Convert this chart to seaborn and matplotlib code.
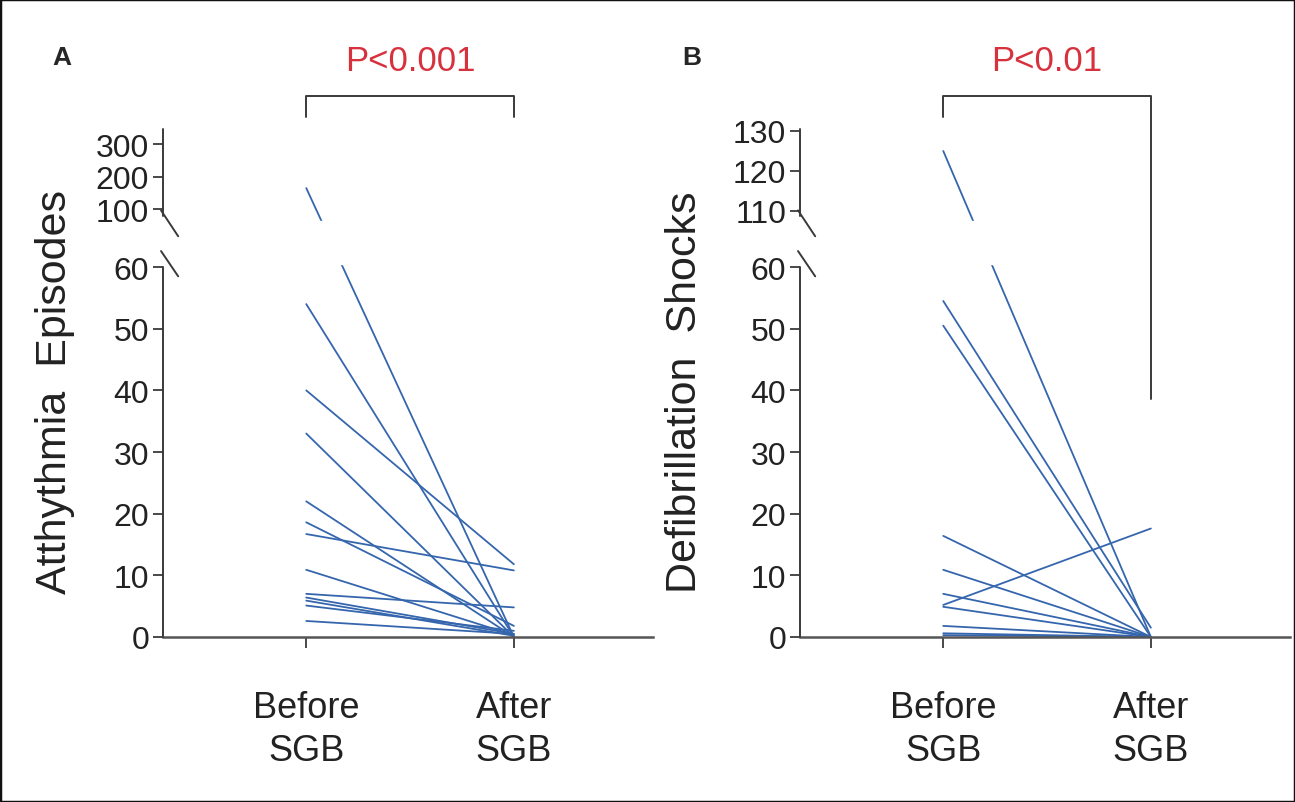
"""
sgb_plot.py - paired before/after SGB lines with broken y axis
"""
import numpy as np
import pandas as pd
import matplotlib
matplotlib.use("Agg")
import matplotlib.pyplot as plt
import seaborn as sns
from matplotlib.patches import Rectangle
from matplotlib.transforms import blended_transform_factory

sns.set_theme(style="white")
plt.rcParams['font.family'] = ['Liberation Sans', 'DejaVu Sans']

CONDITIONS = ["Before\nSGB", "After\nSGB"]

# panel A - arrhythmia episodes per patient
EPISODES_BEFORE = [165, 54, 40, 33, 22, 18.6, 16.7, 10.9, 7.0, 6.4, 5.9, 5.1, 2.6]
EPISODES_AFTER = [0, 0, 11.8, 0, 0, 1.8, 10.8, 0.3, 4.8, 0.5, 0.2, 1.0, 0.5]
EPISODES_TICKS = [0, 10, 20, 30, 40, 50, 60, 100, 200, 300]

# panel B - defibrillation shocks per patient
SHOCKS_BEFORE = [125, 54.5, 50.5, 16.4, 10.9, 7.0, 5.2, 4.9, 1.8, 0.6, 0.3]
SHOCKS_AFTER = [0, 1.5, 0, 0, 0, 0, 17.6, 0, 0, 0, 0]
SHOCKS_TICKS = [0, 10, 20, 30, 40, 50, 60, 110, 120, 130]

LINE_COLOR = "#3566ad"
AXIS_COLOR = "#3a3a3a"
P_COLOR = "#d8313e"


def broken_scale(low_top, high_bottom, gap, k):
    """values <= low_top stay linear, values >= high_bottom get squeezed by k"""
    def fwd(v):
        v = np.asarray(v, dtype=float)
        mid = low_top + (v - low_top) * gap / (high_bottom - low_top)
        high = low_top + gap + (v - high_bottom) * k
        return np.where(v <= low_top, v, np.where(v <= high_bottom, mid, high))

    def inv(t):
        t = np.asarray(t, dtype=float)
        mid = low_top + (t - low_top) * (high_bottom - low_top) / gap
        high = high_bottom + (t - low_top - gap) / k
        return np.where(t <= low_top, t, np.where(t <= low_top + gap, mid, high))
    return fwd, inv


def to_long(before, after):
    n = len(before)
    return pd.DataFrame({
        "patient": list(range(n)) * 2,
        "x": [0] * n + [1] * n,
        "value": list(before) + list(after),
    })


def draw_panel(ax, before, after, ticks, scale, label, ptext, right_drop, label_x):
    fwd, inv = scale
    df = to_long(before, after)
    sns.lineplot(data=df, x="x", y="value", units="patient", estimator=None,
                 color=LINE_COLOR, lw=1.3, ax=ax, legend=False)
    ax.set_yscale("function", functions=(fwd, inv))
    ax.set_xlim(-0.69, 1.67)
    ax.set_ylim(0, float(inv(82.4)))

    ax.set_yticks(ticks)
    ax.set_yticklabels([str(t) for t in ticks])
    ax.set_xticks([0, 1])
    ax.set_xticklabels(CONDITIONS, fontsize=26, linespacing=1.3)
    ax.tick_params(axis="y", left=True, direction="out", length=7, width=1.3,
                   color=AXIS_COLOR, labelsize=23, pad=3, labelcolor="#222222")
    ax.tick_params(axis="x", bottom=True, direction="out", length=8, width=1.3,
                   color=AXIS_COLOR, pad=30, labelcolor="#222222")
    ax.set_xlabel("")
    ax.set_ylabel(label, fontsize=31, color="#222222")
    ax.yaxis.set_label_coords(label_x, 0.484)

    for side in ["top", "right", "left"]:
        ax.spines[side].set_visible(False)
    ax.spines["bottom"].set_color("#555555")
    ax.spines["bottom"].set_linewidth(1.8)

    # hide the lines inside the axis break
    ax.axhspan(float(inv(60.5)), float(inv(67.5)), color="white", zorder=2.5)

    # broken left axis with slash marks
    ytr = ax.get_yaxis_transform()
    kw = dict(transform=ytr, clip_on=False, color=AXIS_COLOR, lw=1.4, zorder=4)
    ax.plot([0, 0], [0, 60], **kw)
    ax.plot([0, 0], [float(inv(68.3)), float(inv(82.4))], **kw)
    ax.plot([-0.004, 0.031], [float(inv(69.2)), float(inv(65.0))], **kw)
    ax.plot([-0.004, 0.031], [float(inv(62.6)), float(inv(58.5))], **kw)

    # significance bracket
    btr = blended_transform_factory(ax.transData, ax.transAxes)
    ax.plot([0, 0, 1, 1], [1.024, 1.065, 1.065, right_drop], transform=btr,
            clip_on=False, color=AXIS_COLOR, lw=1.4, zorder=5)
    ax.text(0.5, 1.134, ptext, transform=btr, ha="center", va="center",
            color=P_COLOR, fontsize=25)


fig = plt.figure(figsize=(12.95, 8.03), dpi=100)
ax_a = fig.add_axes([163 / 1295, 165 / 803, 490 / 1295, 508 / 803])
ax_b = fig.add_axes([800 / 1295, 165 / 803, 490 / 1295, 508 / 803])

draw_panel(ax_a, EPISODES_BEFORE, EPISODES_AFTER, EPISODES_TICKS,
           broken_scale(60, 100, 9.4, 0.0525), "Atthythmia  Episodes",
           "P<0.001", 1.024, -0.18)
draw_panel(ax_b, SHOCKS_BEFORE, SHOCKS_AFTER, SHOCKS_TICKS,
           broken_scale(60, 110, 9.1, 0.649), "Defibrillation  Shocks",
           "P<0.01", 0.4685, -0.194)

fig.text(62 / 1295, 1 - 58 / 803, "A", ha="center", va="center",
         fontsize=19, fontweight="bold")
fig.text(692 / 1295, 1 - 58 / 803, "B", ha="center", va="center",
         fontsize=19, fontweight="bold")

fig.patches.append(Rectangle((0, 0), 1, 1, transform=fig.transFigure,
                             fill=False, edgecolor="#111111", lw=2.5))

fig.savefig("out.png", dpi=100)
plt.close(fig)
